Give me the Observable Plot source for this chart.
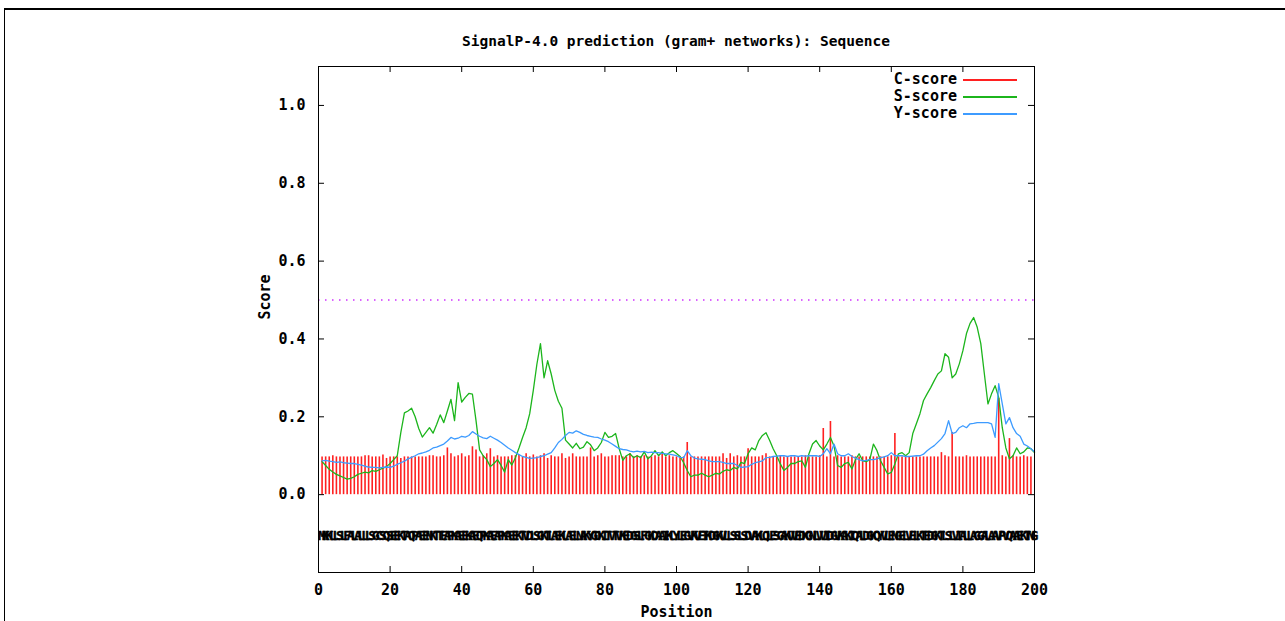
<!DOCTYPE html>
<html><head><meta charset="utf-8">
<script src="https://cdn.jsdelivr.net/npm/d3@7"></script>
<script src="https://cdn.jsdelivr.net/npm/@observablehq/plot@0.6"></script>
<style>
body{margin:0;background:#fff;overflow:hidden;}
#wrap{position:relative;width:1285px;height:621px;overflow:hidden;font-family:"DejaVu Sans Mono",monospace;font-weight:bold;color:#000;}
#border{position:absolute;left:4px;top:8px;width:1400px;height:800px;border-top:2px solid #000;border-left:1px solid #000;pointer-events:none;}
#title{height:56px;box-sizing:border-box;padding-top:32px;margin-left:318px;width:716px;text-align:center;font-size:14.5px;line-height:18px;white-space:nowrap;}
#legend{position:absolute;left:840px;top:71px;font-size:15px;}
#legend .row{height:17px;line-height:17px;display:flex;align-items:center;}
#legend .lab{width:117px;text-align:right;}
#legend .sw{width:54px;height:0;border-top:2px solid;margin-left:6px;}
svg{display:block;}
</style>
</head><body>
<div id="wrap">
<div id="border"></div>
<div id="title">SignalP-4.0 prediction (gram+ networks): Sequence</div>
<div id="chart"></div>
<div id="legend"></div>
</div>
<script>
// ---- data ----
const seriesNames = ["C-score", "S-score", "Y-score"];
const seriesColors = ["#ff2020", "#1cb51c", "#3d9bff"];
const cutoff = 0.5;
const xTicks = [0, 20, 40, 60, 80, 100, 120, 140, 160, 180, 200];
const yTicks = [0.0, 0.2, 0.4, 0.6, 0.8, 1.0];

const sequence = [
 "MKKLLSLFAL","ALLLSGCSQS","EEKTAQPAEE","NKTTEAPKAE","EKAEQPKAEA",
 "PKAEEKTVDL","SGKTLAEKLA","ELNAKYGDKI","TVTVKEDGSL","FGKDAAIKLY",
 "LEGVKVETKD","GKVLLSSLSD","VAKLQLESGA","KVVEDKGNLV","VIDGVKAKIQ",
 "ALDGKQYVLE","NGELVELKTE","DGKTLSLVIA","LLAGGALAAV","PVQAAEKTNG"
].join("");

const cScore = [
 0.097,0.097,0.097,0.100,0.097,0.097,0.097,0.097,0.097,0.097,
 0.097,0.097,0.100,0.100,0.097,0.097,0.097,0.102,0.093,0.097,
 0.097,0.097,0.093,0.097,0.097,0.097,0.097,0.097,0.097,0.097,
 0.100,0.100,0.097,0.097,0.100,0.120,0.105,0.097,0.100,0.105,
 0.097,0.100,0.123,0.115,0.097,0.100,0.105,0.118,0.097,0.100,
 0.097,0.097,0.097,0.100,0.100,0.102,0.097,0.105,0.097,0.102,
 0.097,0.100,0.105,0.093,0.100,0.097,0.097,0.105,0.093,0.097,
 0.105,0.097,0.097,0.097,0.097,0.120,0.097,0.100,0.105,0.097,
 0.097,0.100,0.100,0.100,0.097,0.097,0.105,0.097,0.100,0.097,
 0.100,0.097,0.097,0.100,0.097,0.105,0.097,0.100,0.097,0.097,
 0.097,0.097,0.134,0.097,0.097,0.097,0.097,0.097,0.097,0.097,
 0.097,0.097,0.105,0.093,0.105,0.097,0.100,0.097,0.097,0.118,
 0.097,0.097,0.097,0.100,0.105,0.097,0.097,0.097,0.100,0.097,
 0.097,0.097,0.097,0.097,0.097,0.100,0.097,0.097,0.097,0.100,
 0.170,0.097,0.188,0.097,0.100,0.097,0.097,0.097,0.100,0.097,
 0.097,0.097,0.097,0.097,0.097,0.097,0.097,0.097,0.097,0.100,
 0.157,0.097,0.097,0.097,0.097,0.097,0.097,0.097,0.097,0.097,
 0.097,0.097,0.097,0.108,0.100,0.097,0.160,0.097,0.097,0.097,
 0.100,0.097,0.097,0.097,0.097,0.097,0.097,0.097,0.097,0.247,
 0.100,0.097,0.144,0.100,0.097,0.097,0.100,0.097,0.097
];

const sScore = [
 0.085,0.075,0.065,0.058,0.052,0.048,0.044,0.040,0.042,0.046,
 0.052,0.055,0.058,0.056,0.062,0.060,0.064,0.068,0.072,0.080,
 0.090,0.100,0.160,0.210,0.215,0.222,0.200,0.170,0.148,0.160,
 0.172,0.158,0.180,0.205,0.185,0.215,0.245,0.190,0.288,0.238,
 0.250,0.260,0.258,0.190,0.115,0.100,0.090,0.072,0.080,0.090,
 0.075,0.058,0.090,0.076,0.095,0.120,0.147,0.172,0.208,0.268,
 0.335,0.388,0.300,0.344,0.310,0.268,0.240,0.222,0.140,0.130,
 0.120,0.132,0.118,0.122,0.136,0.128,0.113,0.120,0.134,0.160,
 0.147,0.150,0.157,0.118,0.088,0.100,0.105,0.095,0.100,0.095,
 0.110,0.092,0.100,0.113,0.100,0.110,0.100,0.108,0.113,0.106,
 0.098,0.082,0.062,0.046,0.050,0.050,0.055,0.050,0.046,0.050,
 0.055,0.053,0.060,0.064,0.062,0.070,0.066,0.083,0.080,0.105,
 0.120,0.115,0.139,0.152,0.159,0.140,0.118,0.100,0.079,0.062,
 0.070,0.080,0.080,0.085,0.087,0.070,0.105,0.130,0.139,0.125,
 0.115,0.130,0.147,0.125,0.075,0.070,0.080,0.083,0.066,0.090,
 0.105,0.087,0.085,0.090,0.130,0.113,0.087,0.070,0.053,0.057,
 0.079,0.105,0.108,0.100,0.108,0.157,0.182,0.208,0.242,0.259,
 0.275,0.293,0.310,0.318,0.362,0.353,0.300,0.310,0.336,0.370,
 0.414,0.440,0.455,0.430,0.388,0.310,0.233,0.259,0.280,0.250,
 0.172,0.120,0.092,0.100,0.120,0.105,0.110,0.120,0.118,0.108
];

const yScore = [
 0.087,0.088,0.086,0.085,0.083,0.084,0.082,0.081,0.080,0.080,
 0.078,0.076,0.073,0.071,0.070,0.070,0.069,0.070,0.071,0.070,
 0.073,0.078,0.082,0.086,0.092,0.096,0.100,0.105,0.107,0.110,
 0.114,0.120,0.122,0.126,0.130,0.138,0.147,0.143,0.145,0.150,
 0.148,0.152,0.162,0.156,0.150,0.146,0.144,0.150,0.145,0.140,
 0.134,0.127,0.120,0.114,0.108,0.103,0.098,0.096,0.093,0.094,
 0.095,0.098,0.100,0.104,0.108,0.120,0.134,0.142,0.152,0.160,
 0.158,0.164,0.160,0.155,0.152,0.150,0.148,0.147,0.143,0.140,
 0.136,0.130,0.124,0.118,0.116,0.115,0.112,0.110,0.112,0.110,
 0.111,0.108,0.109,0.108,0.108,0.106,0.105,0.104,0.102,0.100,
 0.096,0.095,0.113,0.100,0.094,0.092,0.091,0.090,0.087,0.085,
 0.085,0.085,0.083,0.080,0.080,0.080,0.075,0.070,0.071,0.072,
 0.078,0.082,0.084,0.087,0.095,0.096,0.098,0.099,0.100,0.100,
 0.098,0.100,0.100,0.098,0.100,0.099,0.100,0.100,0.100,0.098,
 0.105,0.118,0.105,0.130,0.105,0.100,0.100,0.105,0.098,0.094,
 0.090,0.087,0.088,0.090,0.090,0.092,0.095,0.097,0.100,0.108,
 0.100,0.100,0.100,0.098,0.098,0.099,0.100,0.100,0.104,0.113,
 0.120,0.126,0.135,0.144,0.157,0.190,0.157,0.160,0.172,0.177,
 0.172,0.182,0.183,0.185,0.185,0.185,0.185,0.182,0.147,0.285,
 0.233,0.182,0.198,0.172,0.157,0.150,0.130,0.125,0.118,0.110
];

// ---- tables built from the arrays ----
const cData = cScore.map((v, i) => ({pos: i + 1, v}));
const sData = sScore.map((v, i) => ({pos: i + 1, v}));
const yData = yScore.map((v, i) => ({pos: i + 1, v}));
const seqData = sequence.split("").map((aa, i) => ({pos: i + 1, aa}));

const FONT = "DejaVu Sans Mono";
const W = 1285, H = 565, MT = 10, MB = 49, ML = 318, MR = 251;
const frameW = W - ML - MR, frameH = H - MT - MB, TICK = 6;

const chart = Plot.plot({
  width: W,
  height: H,
  marginTop: MT,
  marginBottom: MB,
  marginLeft: ML,
  marginRight: MR,
  x: {domain: [0, 200]},
  y: {domain: [-0.2, 1.1]},
  style: {fontFamily: FONT, fontSize: "15px", fontWeight: "bold", background: "transparent", color: "#000"},
  marks: [
    Plot.ruleY([cutoff], {stroke: "#d030ff", strokeWidth: 1.5, strokeDasharray: "1.5,5.5"}),
    Plot.ruleX(cData, {x: "pos", y1: 0, y2: "v", stroke: seriesColors[0], strokeWidth: 1.6}),
    Plot.line(sData, {x: "pos", y: "v", stroke: seriesColors[1], strokeWidth: 1.3}),
    Plot.line(yData, {x: "pos", y: "v", stroke: seriesColors[2], strokeWidth: 1.3}),
    Plot.text(seqData, {x: "pos", y: -0.105, text: "aa", fontSize: 13, fontWeight: "bold", fill: "#000", stroke: "#000", strokeWidth: 0.4}),
    Plot.frame({stroke: "#000", strokeWidth: 1}),
    // inward ticks on all four sides (gnuplot mirror style)
    Plot.tickX(xTicks, {x: d => d, stroke: "#000", insetTop: frameH - TICK}),
    Plot.tickX(xTicks, {x: d => d, stroke: "#000", insetBottom: frameH - TICK}),
    Plot.tickY(yTicks, {y: d => d, stroke: "#000", insetRight: frameW - TICK}),
    Plot.tickY(yTicks, {y: d => d, stroke: "#000", insetLeft: frameW - TICK}),
    Plot.axisX(xTicks, {anchor: "bottom", tickSize: 0, tickPadding: 12, tickFormat: d => String(d), label: null, fontSize: 15, fontWeight: "bold"}),
    Plot.axisY(yTicks, {anchor: "left", tickSize: 0, tickPadding: 13, tickFormat: d3.format(".1f"), label: null, fontSize: 15, fontWeight: "bold"}),
    Plot.text(["Position"], {frameAnchor: "bottom", lineAnchor: "middle", dy: 40, fontSize: 15, fontWeight: "bold"}),
    Plot.text(["Score"], {frameAnchor: "left", lineAnchor: "middle", dx: -53, rotate: -90, fontSize: 15, fontWeight: "bold"})
  ]
});
document.getElementById("chart").appendChild(chart);

// legend (inside the plot frame, top right)
const legend = document.getElementById("legend");
seriesNames.forEach((name, i) => {
  const row = document.createElement("div");
  row.className = "row";
  const lab = document.createElement("span");
  lab.className = "lab";
  lab.textContent = name;
  const sw = document.createElement("span");
  sw.className = "sw";
  sw.style.borderTopColor = seriesColors[i];
  row.appendChild(lab);
  row.appendChild(sw);
  legend.appendChild(row);
});
</script>
</body></html>
